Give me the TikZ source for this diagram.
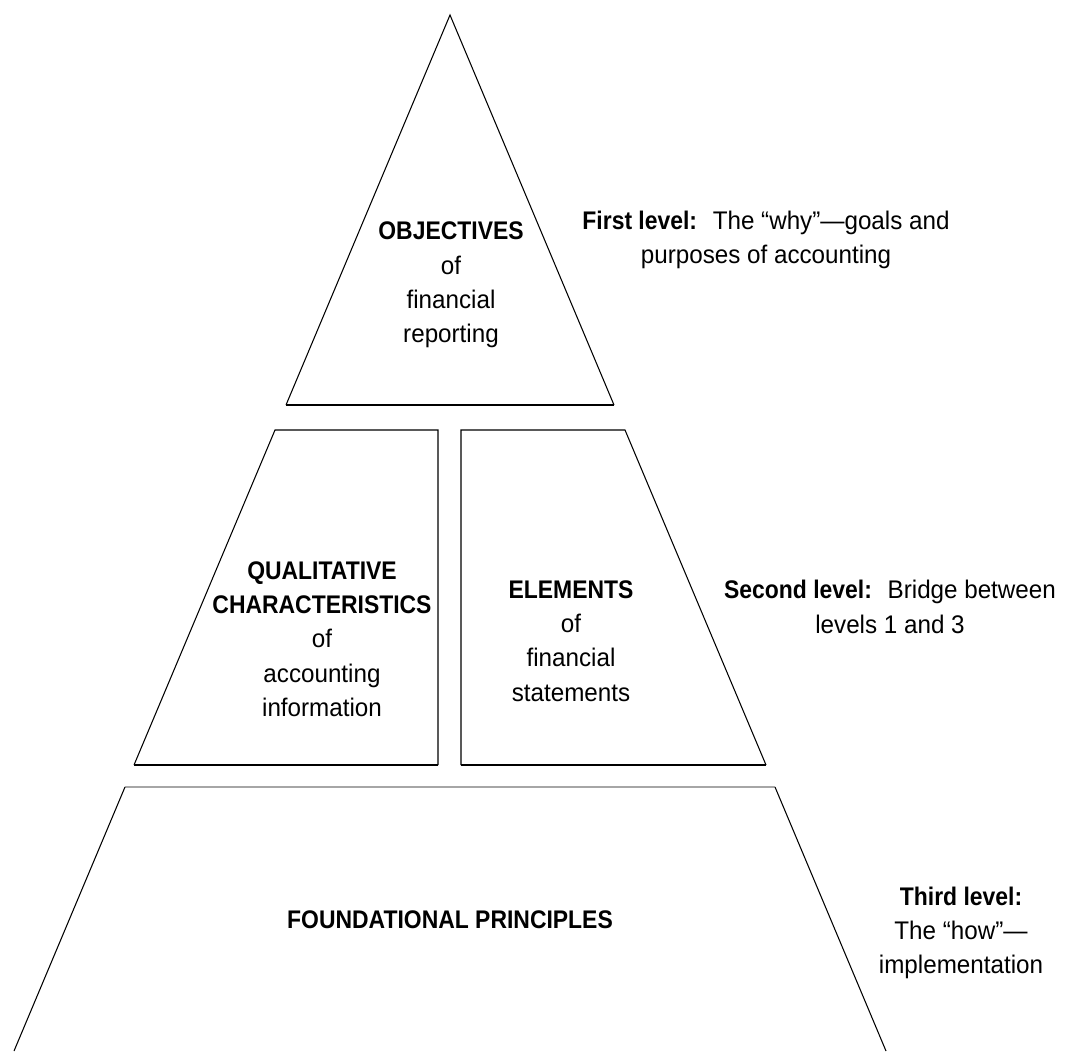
\documentclass[tikz,border=0pt]{standalone}
\usepackage{fontspec}
\setmainfont{Liberation Sans}[FakeStretch=0.95, BoldFeatures={FakeStretch=0.9}]
\usepackage{tikz}
\tikzset{
  edge/.style={draw=black, line width=0.6pt},
  baseedge/.style={draw=black, line width=1.3pt},
  topedge/.style={draw=gray!70, line width=1.6pt},
  block/.style={align=center, inner sep=0pt, font=\fontsize{14.5}{19.5}\selectfont},
  levelnote/.style={align=center, inner sep=0pt, font=\fontsize{14.5}{19.5}\selectfont}
}

\begin{document}
\begin{tikzpicture}[x=0.02cm, y=-0.02cm]
  \useasboundingbox (0,0) rectangle (1070,1051);

  % pyramid pieces
  \draw[edge] (286,405) -- (450,15) -- (614,405);
  \draw[baseedge] (286,405) -- (614,405);

  \draw[edge] (134,765) -- (275,430) -- (438,430) -- (438,765);
  \draw[baseedge] (134,765) -- (438,765);
  \draw[edge] (461,765) -- (461,430) -- (625,430) -- (766,765);
  \draw[baseedge] (461,765) -- (766,765);

  \draw[topedge] (125,787) -- (775,787);
  \draw[edge] (125,787) -- (14,1051);
  \draw[edge] (775,787) -- (886,1051);

  % texts inside
  \node[block] (objectives) at (451,285) {\textbf{OBJECTIVES}\\of\\financial\\reporting};
  \node[block] (qualitative) at (322,639) {\textbf{QUALITATIVE}\\\textbf{CHARACTERISTICS}\\of\\accounting\\information};
  \node[block] (elements) at (571,641) {\textbf{ELEMENTS}\\of\\financial\\statements};
  \node[block] (foundational) at (450,920) {\textbf{FOUNDATIONAL PRINCIPLES}};

  % level notes
  \node[levelnote] (firstlevel) at (766,240)
    {\textbf{First level:}~ The “why”—goals and\\purposes of accounting};
  \node[levelnote] (secondlevel) at (890,607)
    {\textbf{Second level:}~ Bridge between\\levels 1 and 3};
  \node[levelnote] (thirdlevel) at (961,933)
    {\textbf{Third level:}\\The “how”—\\implementation};
\end{tikzpicture}
\end{document}
